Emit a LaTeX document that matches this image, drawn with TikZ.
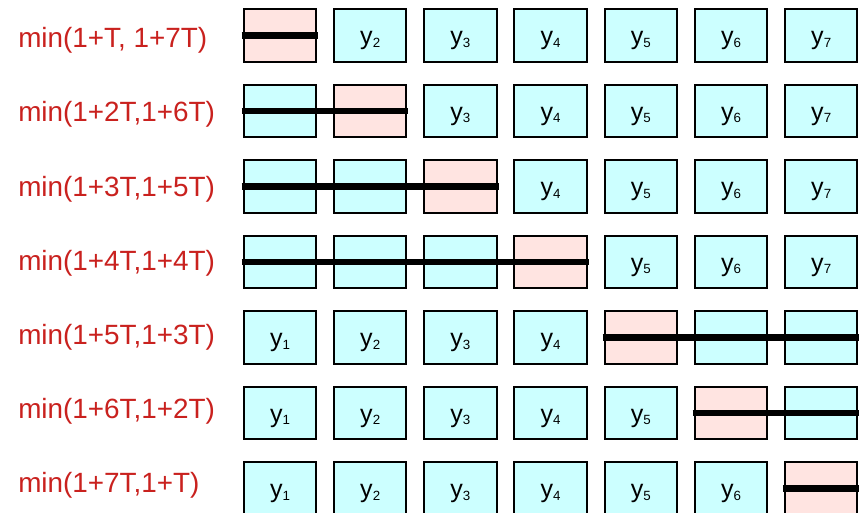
\documentclass[tikz,border=0pt]{standalone}
\usepackage{fontspec}
\setmainfont{Liberation Sans}
\usetikzlibrary{positioning}
\definecolor{cell}{RGB}{204,255,255}
\definecolor{hit}{RGB}{255,228,225}
\definecolor{lbl}{RGB}{201,33,30}
\newcommand{\ylab}[1]{y\raisebox{-1.7pt}{\fontsize{10}{10}\selectfont #1}}

\begin{document}
\begin{tikzpicture}[x=0.75pt,y=0.75pt,
  cellbox/.style={draw=black,line width=1.5pt,fill=cell,minimum width=54.4pt,
    minimum height=39.4pt,inner sep=0pt,text height=14.2pt,text depth=0pt,
    font=\fontsize{18.8}{20}\selectfont},
  hitbox/.style={cellbox,fill=hit},
  rowlbl/.style={anchor=west,inner sep=0pt,text=lbl,font=\fontsize{20.9}{24}\selectfont},
  cut/.style={line width=5pt,shorten <=-0.75pt,shorten >=-0.75pt}]
\useasboundingbox (0,0) rectangle (859,-513);
% row labels
\foreach \r/\t in {1/{min(1+T, 1+7T)},2/{min(1+2T,1+6T)},3/{min(1+3T,1+5T)},
  4/{min(1+4T,1+4T)},5/{min(1+5T,1+3T)},6/{min(1+6T,1+2T)},7/{min(1+7T,1+T)}}
  \node[rowlbl] (l\r) at (18,{-40.5-(\r-1)*74.2}) {\t};
% boxes
\foreach \r in {1,...,7}{
  \foreach \c in {1,...,7}{
    \ifnum\c=\r \def\sty{hitbox}\else\def\sty{cellbox}\fi
    \def\txt{\ylab{\c}}
    \ifnum\r<5 \ifnum\c>\r \else\def\txt{}\fi
    \else \ifnum\c<\r \else\def\txt{}\fi \fi
    \node[\sty] (b\r\c) at ({280+(\c-1)*90.2},{-35.5-(\r-1)*75.5}) {\txt};
  }
}
% cut lines
\foreach \r in {1,...,4} \draw[cut] (b\r1.west) -- (b\r\r.east);
\foreach \r in {5,6,7} \draw[cut] (b\r\r.west) -- (b\r7.east);
\end{tikzpicture}
\end{document}
